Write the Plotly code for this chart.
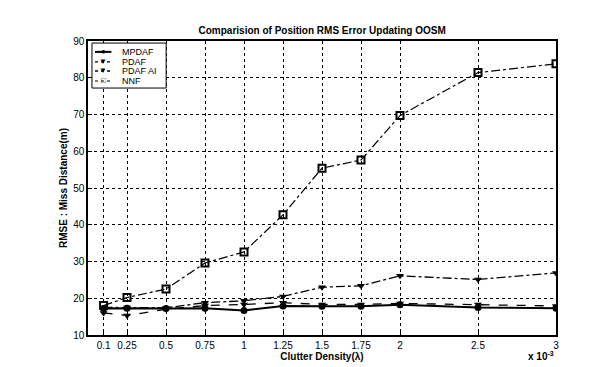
import plotly.graph_objects as go

x_vals = [0.1, 0.25, 0.5, 0.75, 1, 1.25, 1.5, 1.75, 2, 2.5, 3]
x_labels = ["0.1", "0.25", "0.5", "0.75", "1", "1.25", "1.5", "1.75", "2", "2.5", "3"]
mpdaf = [17.2, 17.3, 17.2, 17.3, 16.7, 17.9, 17.8, 17.8, 18.2, 17.5, 17.3]
pdaf = [16.0, 15.3, 17.0, 18.0, 18.3, 18.8, 18.3, 18.3, 18.6, 18.3, 17.9]
pdaf_ai = [17.5, 17.5, 17.4, 18.8, 19.3, 20.5, 23.0, 23.4, 26.1, 25.1, 26.9]
nnf = [18.0, 20.2, 22.5, 29.6, 32.6, 42.7, 55.4, 57.6, 69.7, 81.4, 83.8]
y_ticks = [10, 20, 30, 40, 50, 60, 70, 80, 90]
series_names = ["MPDAF", "PDAF", "PDAF AI", "NNF"]

styles = [
    dict(dash="solid", width=2, symbol="circle", glyph="●"),
    dict(dash="dash", width=1.3, symbol="triangle-down", glyph="▼"),
    dict(dash="dashdot", width=1.3, symbol="triangle-down", glyph="▼"),
    dict(dash="dashdot", width=1.2, symbol="square-open", glyph="□"),
]
data = [mpdaf, pdaf, pdaf_ai, nnf]

fig = go.Figure()
for name, ys, st in zip(series_names, data, styles):
    mk = dict(symbol=st["symbol"], size=7, color="black")
    if st["symbol"] == "square-open":
        mk["line"] = dict(width=2, color="black")
    fig.add_trace(go.Scatter(x=x_vals, y=ys, name=name, mode="lines+markers",
                             line=dict(color="black", width=st["width"], dash=st["dash"]),
                             marker=mk, showlegend=False))

# compact legend box like the reference
fig.add_shape(type="rect", xref="paper", yref="paper", x0=0.0085, x1=0.167,
              y0=0.840, y1=0.993, line=dict(color="black", width=1),
              fillcolor="white", layer="above")
row_y = [0.963, 0.929, 0.898, 0.864]
for name, st, ry in zip(series_names, styles, row_y):
    fig.add_shape(type="line", xref="paper", yref="paper", x0=0.015, x1=0.05,
                  y0=ry, y1=ry, line=dict(color="black", width=st["width"], dash="solid" if st["dash"] == "solid" else "dot"),
                  layer="above")
    fig.add_annotation(text=st["glyph"], xref="paper", yref="paper", x=0.0325, y=ry,
                       xanchor="center", yanchor="middle", showarrow=False,
                       font=dict(size=8, color="black"))
    fig.add_annotation(text=name, xref="paper", yref="paper", x=0.068, y=ry,
                       xanchor="left", yanchor="middle", showarrow=False,
                       font=dict(size=9, color="black"))

fig.update_layout(
    width=603, height=367,
    margin=dict(l=80, r=55, t=33, b=40),
    paper_bgcolor="white", plot_bgcolor="white",
    font=dict(family="Liberation Sans, Arial, sans-serif", color="black", size=10),
    title=dict(text="<b>Comparision of Position RMS Error Updating OOSM</b>",
               x=0.521, xanchor="center", y=0.94, yanchor="middle",
               font=dict(size=10)),
    showlegend=False,
    xaxis=dict(range=[0, 3], tickvals=x_vals, ticktext=x_labels,
               showgrid=True, gridcolor="black", griddash="dot", gridwidth=1,
               showline=True, linecolor="black", linewidth=1.5, mirror=True,
               ticks="inside", ticklen=4, tickcolor="black",
               tickfont=dict(size=10), zeroline=False,
               title=dict(text="<b>Clutter Density(λ)</b>", font=dict(size=10), standoff=2)),
    yaxis=dict(range=[10, 90], tickvals=y_ticks,
               showgrid=True, gridcolor="black", griddash="dot", gridwidth=1,
               showline=True, linecolor="black", linewidth=1.5, mirror=True,
               ticks="inside", ticklen=4, tickcolor="black",
               tickfont=dict(size=10), zeroline=False,
               title=dict(text="<b>RMSE : Miss Distance(m)</b>", font=dict(size=10), standoff=4)),
)
fig.add_annotation(text="<b>x 10<sup>-3</sup></b>", xref="paper", yref="paper",
                   x=1.0, y=-0.072, xanchor="right", yanchor="middle",
                   showarrow=False, font=dict(size=10))

fig.write_html("out.html")
